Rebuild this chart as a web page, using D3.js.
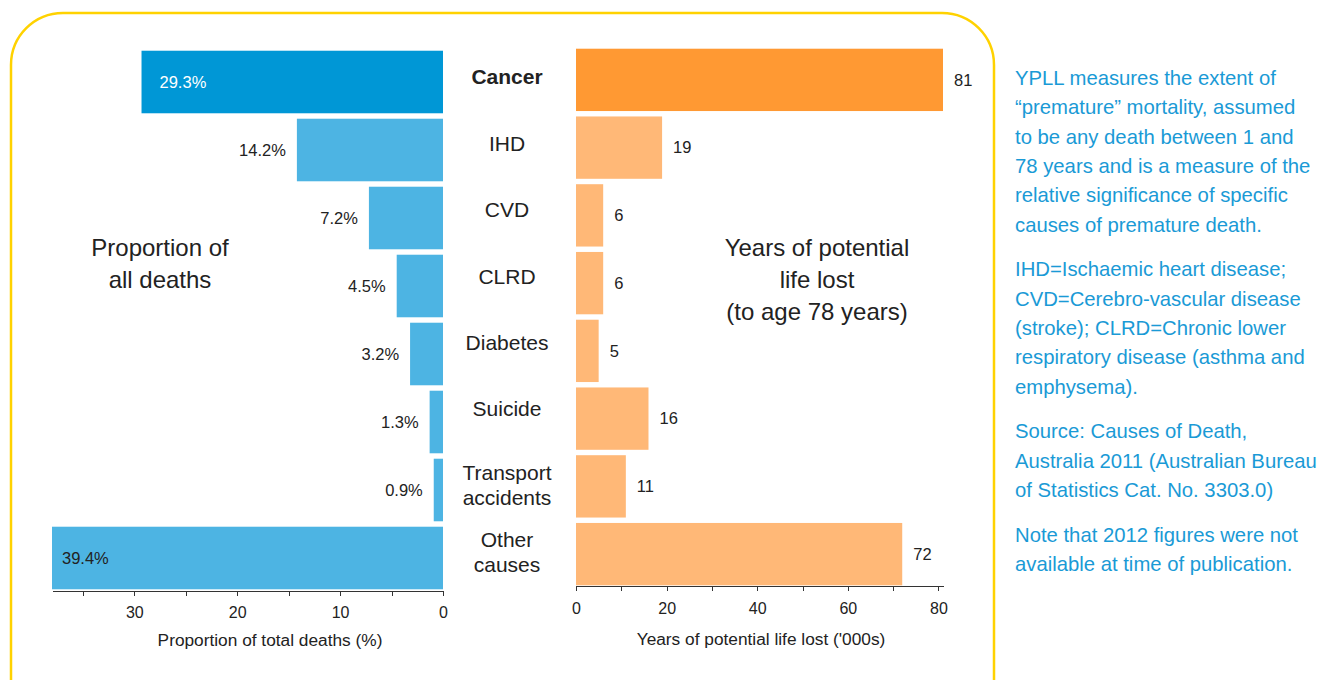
<!DOCTYPE html>
<meta charset="utf-8">
<head>
<style>
  body { margin: 0; background: #fff; font-family: "Liberation Sans", Arial, sans-serif; }
  .axis path, .axis line { fill: none; stroke: #333; shape-rendering: crispEdges; }
  .axis text { font-size: 16px; fill: #222; font-family: "Liberation Sans", Arial, sans-serif; }
  .note { fill: #1a9ad6; font-size: 20.3px; }
</style>
</head>
<body>
<script src="https://d3js.org/d3.v7.min.js"></script>
<script>

var causes = ["Cancer", "IHD", "CVD", "CLRD", "Diabetes", "Suicide", "Transport accidents", "Other causes"];
var causeLines = [["Cancer"], ["IHD"], ["CVD"], ["CLRD"], ["Diabetes"], ["Suicide"], ["Transport", "accidents"], ["Other", "causes"]];
var deathShare = [29.3, 14.2, 7.2, 4.5, 3.2, 1.3, 0.9, 39.4];
var ypll = [81, 19, 6, 6, 5, 16, 11, 72];
var leftTicks = [0, 5, 10, 15, 20, 25, 30, 35];
var rightTicks = [0, 10, 20, 30, 40, 50, 60, 70, 80];

var notes = [
  ["YPLL measures the extent of", "\u201cpremature\u201d mortality, assumed", "to be any death between 1 and", "78 years and is a measure of the", "relative significance of specific", "causes of premature death."],
  ["IHD=Ischaemic heart disease;", "CVD=Cerebro-vascular disease", "(stroke); CLRD=Chronic lower", "respiratory disease (asthma and", "emphysema)."],
  ["Source: Causes of Death,", "Australia 2011 (Australian Bureau", "of Statistics Cat. No. 3303.0)"],
  ["Note that 2012 figures were not", "available at time of publication."]
];

var data = causes.map(function(c, i) {
  return { cause: c, lines: causeLines[i], share: deathShare[i], ypll: ypll[i], i: i };
});

var svg = d3.select("body").append("svg")
    .attr("width", 1324)
    .attr("height", 680);

// yellow rounded frame
svg.append("rect")
    .attr("x", 11).attr("y", 13)
    .attr("width", 983).attr("height", 720)
    .attr("rx", 52).attr("ry", 52)
    .attr("fill", "none")
    .attr("stroke", "#ffd200")
    .attr("stroke-width", 2.5);

var xL = d3.scaleLinear().domain([0, 38]).range([443, 52]).clamp(true);
var xR = d3.scaleLinear().domain([0, 81]).range([576, 943]);

var yL = d3.scaleBand().domain(causes).range([48, 592]).paddingInner(0.08).paddingOuter(0.04);
var yR = d3.scaleBand().domain(causes).range([46, 588]).paddingInner(0.08).paddingOuter(0.04);
// the middle labels sit on a slightly tighter grid than the bars
var yLab = d3.scalePoint().domain(causes).range([77, 542]);

// left bars
svg.selectAll(".barL")
    .data(data)
    .enter().append("rect")
    .attr("class", "barL")
    .attr("x", function(d) { return xL(d.share); })
    .attr("y", function(d) { return yL(d.cause); })
    .attr("width", function(d) { return xL(0) - xL(d.share); })
    .attr("height", yL.bandwidth())
    .attr("fill", function(d) { return d.i === 0 ? "#0097d6" : "#4db4e3"; });

// right bars
svg.selectAll(".barR")
    .data(data)
    .enter().append("rect")
    .attr("class", "barR")
    .attr("x", xR(0))
    .attr("y", function(d) { return yR(d.cause); })
    .attr("width", function(d) { return xR(d.ypll) - xR(0); })
    .attr("height", yR.bandwidth())
    .attr("fill", function(d) { return d.i === 0 ? "#ff9933" : "#ffb877"; });

// left value labels (inside the bar for the two big ones)
svg.selectAll(".valL")
    .data(data)
    .enter().append("text")
    .attr("class", "valL")
    .attr("font-size", "16.5px")
    .attr("dy", "0.35em")
    .attr("y", function(d) { return yL(d.cause) + yL.bandwidth() / 2; })
    .attr("x", function(d) {
      if (d.i === 0) return xL(d.share) + 18;
      if (d.i === 7) return xL(d.share) + 10;
      return xL(d.share) - 11;
    })
    .attr("text-anchor", function(d) { return (d.i === 0 || d.i === 7) ? "start" : "end"; })
    .attr("fill", function(d) { return d.i === 0 ? "#fff" : "#222"; })
    .text(function(d) { return d.share.toFixed(1) + "%"; });

// right value labels
svg.selectAll(".valR")
    .data(data)
    .enter().append("text")
    .attr("class", "valR")
    .attr("font-size", "16.5px")
    .attr("dy", "0.35em")
    .attr("x", function(d) { return xR(d.ypll) + 11; })
    .attr("y", function(d) { return yR(d.cause) + yR.bandwidth() / 2; })
    .attr("fill", "#222")
    .text(function(d) { return d.ypll; });

// category labels in the middle
var cat = svg.selectAll(".cat")
    .data(data)
    .enter().append("text")
    .attr("class", "cat")
    .attr("text-anchor", "middle")
    .attr("font-size", "21px")
    .attr("font-weight", function(d) { return d.i === 0 ? "bold" : "normal"; })
    .attr("fill", "#222")
    .attr("x", 507)
    .attr("y", function(d) {
      if (d.lines.length > 1) return (yLab(d.cause) + yL(d.cause) + yL.bandwidth() / 2) / 2 - 10;
      return yLab(d.cause);
    });

cat.selectAll("tspan")
    .data(function(d) { return d.lines; })
    .enter().append("tspan")
    .attr("x", 507)
    .attr("dy", function(d, i) { return i === 0 ? "0.35em" : "25px"; })
    .text(function(d) { return d; });

// axes
svg.append("g")
    .attr("class", "axis")
    .attr("transform", "translate(0,591)")
    .call(d3.axisBottom(xL).tickValues(leftTicks).tickSize(5).tickSizeOuter(0)
      .tickFormat(function(d) { return d % 10 === 0 ? d : ""; }))
    .selectAll("text").attr("dy", "1.2em");

svg.append("g")
    .attr("class", "axis")
    .attr("transform", "translate(0,586)")
    .call(d3.axisBottom(xR).tickValues(rightTicks).tickSize(5).tickSizeOuter(0)
      .tickFormat(function(d) { return d % 20 === 0 ? d : ""; }))
    .selectAll("text").attr("dy", "1.25em");

svg.append("text")
    .attr("x", 270).attr("y", 646)
    .attr("text-anchor", "middle")
    .attr("font-size", "17.3px").attr("fill", "#222")
    .text("Proportion of total deaths (%)");

svg.append("text")
    .attr("x", 761).attr("y", 645)
    .attr("text-anchor", "middle")
    .attr("font-size", "17.3px").attr("fill", "#222")
    .text("Years of potential life lost ('000s)");

// panel titles
function block(lines, x, y0, lh, size) {
  var t = svg.append("text")
      .attr("text-anchor", "middle")
      .attr("font-size", size).attr("fill", "#222");
  lines.forEach(function(l, i) {
    t.append("tspan").attr("x", x).attr("y", y0 + i * lh).text(l);
  });
}
block(["Proportion of", "all deaths"], 160, 256, 32, "24px");
block(["Years of potential", "life lost", "(to age 78 years)"], 817, 256, 32, "24px");

// side notes
var ny = 85;
notes.forEach(function(p) {
  var t = svg.append("text").attr("class", "note");
  p.forEach(function(l, i) {
    t.append("tspan").attr("x", 1015).attr("y", ny + i * 29.3).text(l);
  });
  ny += p.length * 29.3 + 15.5;
});

</script>
</body>
